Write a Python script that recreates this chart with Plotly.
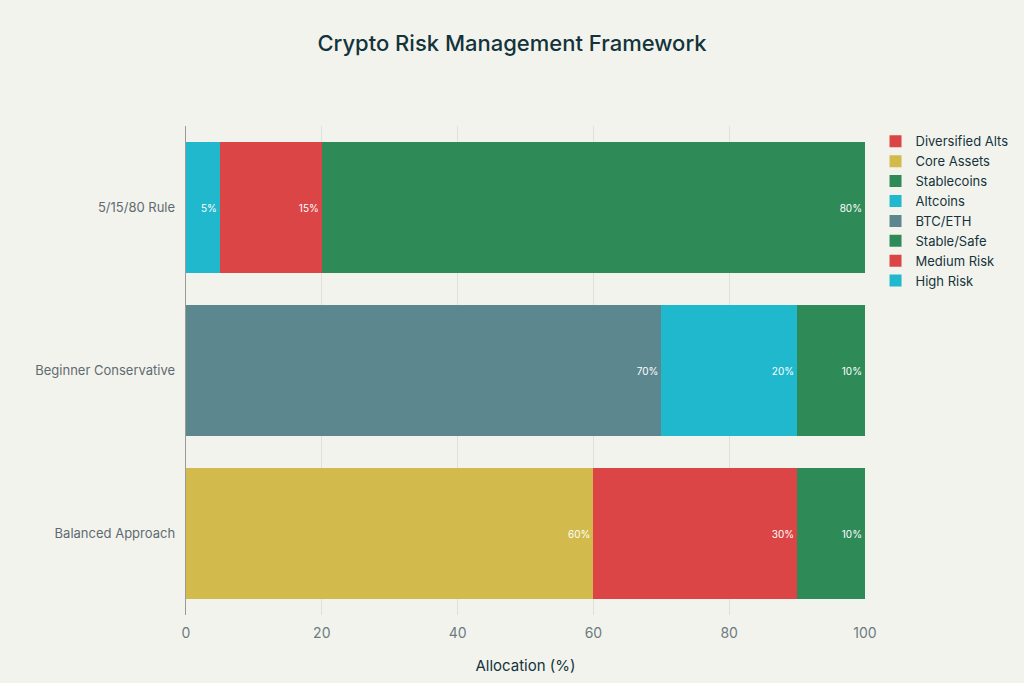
import plotly.graph_objects as go

categories = ["Balanced Approach", "Beginner Conservative", "5/15/80 Rule"]

seg_names = ["High Risk", "Medium Risk", "Stable/Safe", "BTC/ETH", "Altcoins", "Stablecoins",
             "Core Assets", "Diversified Alts", "Stablecoins"]
seg_cats = ["5/15/80 Rule", "5/15/80 Rule", "5/15/80 Rule",
            "Beginner Conservative", "Beginner Conservative", "Beginner Conservative",
            "Balanced Approach", "Balanced Approach", "Balanced Approach"]
seg_values = [5, 15, 80, 70, 20, 10, 60, 30, 10]
seg_colors = ["#1FB8CD", "#DB4545", "#2E8B57", "#5D878F", "#1FB8CD", "#2E8B57",
              "#D2BA4C", "#DB4545", "#2E8B57"]
seg_legend = [True, True, True, True, True, True, True, True, False]

fig = go.Figure()
for n, c, v, col, sl in zip(seg_names, seg_cats, seg_values, seg_colors, seg_legend):
    fig.add_trace(go.Bar(
        y=[c], x=[v], name=n, orientation="h",
        marker=dict(color=col, line=dict(width=0)),
        text=[f"{v}%"], textposition="inside", insidetextanchor="end",
        textfont=dict(color="white", size=10),
        showlegend=sl, legendgroup=n,
    ))

fig.update_layout(
    width=1024, height=683, autosize=False,
    barmode="stack",
    bargap=0.2,
    title=dict(text="Crypto Risk Management Framework", x=0.5, xanchor="center",
               y=0.937, yanchor="middle",
               font=dict(size=22, color="#13343B", weight=500)),
    font=dict(family="Inter, Roboto, sans-serif", color="#13343B"),
    paper_bgcolor="#F3F3EE",
    plot_bgcolor="#F3F3EE",
    margin=dict(l=186, r=159, t=126, b=68, autoexpand=False),
    legend=dict(xref="container", yref="container", x=0.855, y=0.815,
                xanchor="left", yanchor="top", traceorder="reversed",
                font=dict(size=13, color="#13343B"), tracegroupgap=0,
                bgcolor="rgba(0,0,0,0)"),
    uniformtext=dict(minsize=8, mode="show"),
)
fig.update_xaxes(
    title=dict(text="Allocation (%)", font=dict(size=15, color="#13343B"), standoff=20),
    range=[0, 100], dtick=20, showgrid=True, gridcolor="#E0E0DC", gridwidth=1,
    zeroline=False, showline=False, ticks="", ticklabelstandoff=8,
    tickfont=dict(size=14, color="#6B7B80"),
)
fig.update_yaxes(
    categoryorder="array", categoryarray=categories,
    showline=True, linecolor="#9A9A9A", linewidth=1, ticks="", ticklen=0,
    tickfont=dict(size=13, color="#5F6B70"), showgrid=False, ticksuffix="  ",
)

fig.write_html("out.html", config={"displayModeBar": False},
               post_script="document.body.style.margin='0';document.body.style.overflow='hidden';")
